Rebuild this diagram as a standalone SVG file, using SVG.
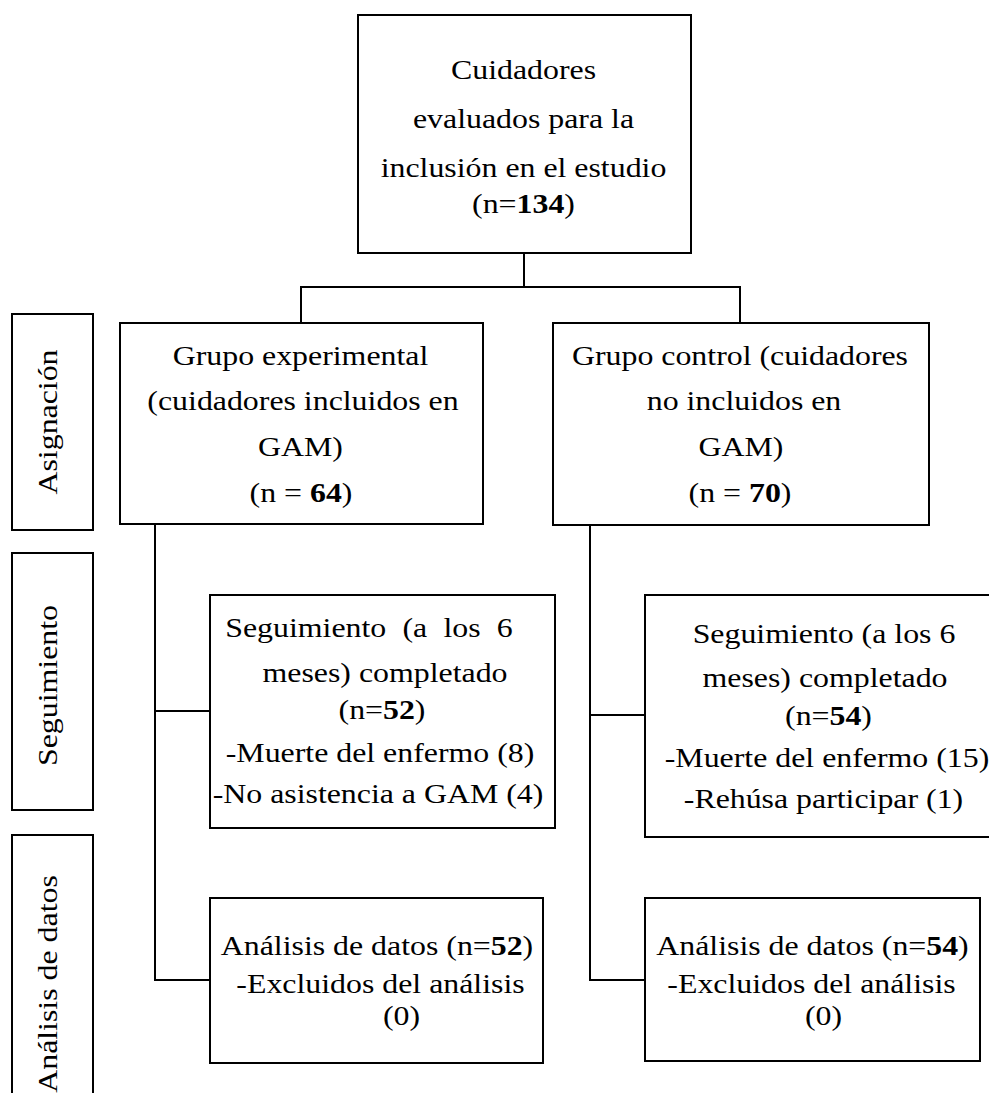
<svg xmlns="http://www.w3.org/2000/svg" width="989" height="1093" viewBox="0 0 989 1093">
<style>
  rect { fill: #ffffff; stroke: #000000; stroke-width: 2; }
  .conn line { stroke: #000000; stroke-width: 2; }
  text { font-family: "Liberation Serif", "Times New Roman", serif; font-size: 27px; fill: #000000; text-anchor: middle; }
  .b { font-weight: bold; }
</style>
<rect x="0" y="0" width="989" height="1093" style="stroke:none"/>

<g id="connectors" class="conn">
  <line x1="524" y1="253" x2="524" y2="287"/>
  <line x1="300" y1="287" x2="741" y2="287"/>
  <line x1="301" y1="286" x2="301" y2="323"/>
  <line x1="740" y1="286" x2="740" y2="323"/>
  <line x1="155" y1="524" x2="155" y2="981"/>
  <line x1="154" y1="711" x2="210" y2="711"/>
  <line x1="154" y1="980" x2="210" y2="980"/>
  <line x1="590" y1="525" x2="590" y2="981"/>
  <line x1="589" y1="715" x2="645" y2="715"/>
  <line x1="589" y1="980" x2="645" y2="980"/>
</g>

<g id="label-asignacion">
  <rect x="12" y="314" width="81" height="216"/>
  <text transform="translate(57,422) rotate(-90) scale(1.18,1)">Asignación</text>
</g>
<g id="label-seguimiento">
  <rect x="12" y="553" width="81" height="257"/>
  <text transform="translate(57,685.5) rotate(-90) scale(1.18,1)">Seguimiento</text>
</g>
<g id="label-analisis">
  <rect x="12" y="835" width="81" height="300"/>
  <text transform="translate(57,984) rotate(-90) scale(1.18,1)">Análisis de datos</text>
</g>

<g id="node-evaluados">
  <rect x="358" y="15" width="333" height="238"/>
  <text transform="translate(523.5,79) scale(1.18,1)">Cuidadores</text>
  <text transform="translate(523.5,128) scale(1.18,1)">evaluados para la</text>
  <text transform="translate(523.5,177) scale(1.18,1)">inclusión en el estudio</text>
  <text transform="translate(523.5,213) scale(1.18,1)">(n=<tspan class="b">134</tspan>)</text>
</g>

<g id="node-experimental">
  <rect x="120" y="323" width="363" height="201"/>
  <text transform="translate(300.5,365) scale(1.18,1)">Grupo experimental</text>
  <text transform="translate(303,410) scale(1.18,1)">(cuidadores incluidos en</text>
  <text transform="translate(300.5,456) scale(1.18,1)">GAM)</text>
  <text transform="translate(301,502) scale(1.18,1)">(n = <tspan class="b">64</tspan>)</text>
</g>

<g id="node-control">
  <rect x="553" y="323" width="376" height="202"/>
  <text transform="translate(740,365) scale(1.18,1)">Grupo control (cuidadores</text>
  <text transform="translate(744,410) scale(1.18,1)">no incluidos en</text>
  <text transform="translate(741,456) scale(1.18,1)">GAM)</text>
  <text transform="translate(740,502) scale(1.18,1)">(n = <tspan class="b">70</tspan>)</text>
</g>

<g id="node-seguimiento-exp">
  <rect x="210" y="595" width="345" height="233"/>
  <text transform="translate(369,637) scale(1.18,1)" style="word-spacing:7px">Seguimiento (a los 6</text>
  <text transform="translate(385,682) scale(1.18,1)">meses) completado</text>
  <text transform="translate(382,719) scale(1.18,1)">(n=<tspan class="b">52</tspan>)</text>
  <text transform="translate(380,762) scale(1.18,1)">-Muerte del enfermo (8)</text>
  <text transform="translate(378,803) scale(1.18,1)">-No asistencia a GAM (4)</text>
</g>

<g id="node-seguimiento-ctrl">
  <rect x="645" y="595" width="362" height="242"/>
  <text transform="translate(824,643) scale(1.18,1)">Seguimiento (a los 6</text>
  <text transform="translate(825,687) scale(1.18,1)">meses) completado</text>
  <text transform="translate(828.5,725) scale(1.18,1)">(n=<tspan class="b">54</tspan>)</text>
  <text transform="translate(827,767) scale(1.18,1)">-Muerte del enfermo (15)</text>
  <text transform="translate(823.5,808) scale(1.18,1)">-Rehúsa participar (1)</text>
</g>

<g id="node-analisis-exp">
  <rect x="210" y="898" width="333" height="165"/>
  <text transform="translate(377,955) scale(1.18,1)">Análisis de datos (n=<tspan class="b">52</tspan>)</text>
  <text transform="translate(380.5,993) scale(1.18,1)">-Excluidos del análisis</text>
  <text transform="translate(401.5,1025) scale(1.18,1)">(0)</text>
</g>

<g id="node-analisis-ctrl">
  <rect x="645" y="898" width="335" height="163"/>
  <text transform="translate(812.5,955) scale(1.18,1)">Análisis de datos (n=<tspan class="b">54</tspan>)</text>
  <text transform="translate(811.5,993) scale(1.18,1)">-Excluidos del análisis</text>
  <text transform="translate(823.5,1025) scale(1.18,1)">(0)</text>
</g>
</svg>
